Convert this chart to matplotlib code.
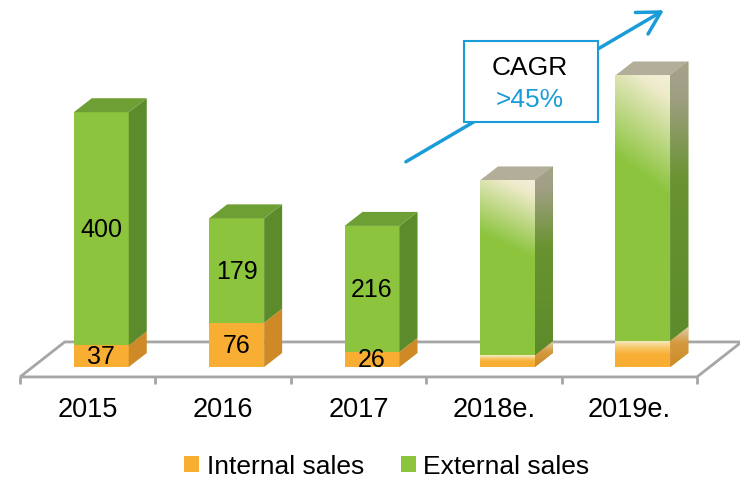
import numpy as np
import matplotlib
matplotlib.use('Agg')
import matplotlib.pyplot as plt
from matplotlib.patches import Polygon, Rectangle, Patch
from matplotlib.colors import to_rgb

plt.rcParams['font.family'] = ['Liberation Sans', 'DejaVu Sans']

# ------------------------------------------------------------------
# Data
# ------------------------------------------------------------------
years = ['2015', '2016', '2017', '2018e.', '2019e.']
internal = [37, 76, 26, 20, 45]
external = [400, 179, 216, 300, 455]
show_values = [True, True, True, False, False]
estimate = [False, False, False, True, True]
cagr_label = '>45%'

GREEN = '#8CC43E'
GREEN_SIDE = '#5C8B2B'
GREEN_TOP = '#6E9F35'
ORANGE = '#F8AE33'
ORANGE_SIDE = '#CD8A26'
BLUE = '#1A9CD8'
FLOOR = '#A6A6A6'

# 3D look: depth offsets in data units
DX, DY = 0.133, 24
BAR_W = 0.406
SHIFT = 0.1
FLOOR_Y = -17
FLOOR_DX, FLOOR_DY = 0.33, 60


def gradient(ax, clip, x0, x1, y0, y1, stops, tilt=0.0, z=3):
    r = np.linspace(0, 1, 120)[:, None]
    c = np.linspace(0, 1, 40)[None, :]
    s = np.clip(r + tilt * (1 - c), 0, 1)
    pos = [p for p, _ in stops]
    cols = np.array([to_rgb(cc) for _, cc in stops])
    img = np.stack([np.interp(s, pos, cols[:, k]) for k in range(3)], axis=-1)
    im = ax.imshow(img, extent=(x0, x1, y0, y1), origin='upper', aspect='auto',
                   zorder=z, interpolation='bilinear')
    im.set_clip_path(clip)
    return im


fig = plt.figure(figsize=(7.4, 4.81), dpi=100)
ax = fig.add_axes([0, 0, 1, 1])
ax.set_axis_off()

# floor
n = len(years)
floor = Polygon([(-0.5, FLOOR_Y), (n - 0.5, FLOOR_Y),
                 (n - 0.5 + FLOOR_DX, FLOOR_Y + FLOOR_DY),
                 (-0.5 + FLOOR_DX, FLOOR_Y + FLOOR_DY)],
                closed=True, facecolor='white', edgecolor=FLOOR, lw=2, zorder=1)
ax.add_patch(floor)
ax.vlines(np.arange(n + 1) - 0.5, FLOOR_Y - 12, FLOOR_Y, color=FLOOR, lw=2, zorder=1)

xs = np.arange(n) + SHIFT
b_int = ax.bar(xs, internal, width=BAR_W, color=ORANGE, zorder=3, lw=0)
b_ext = ax.bar(xs, external, bottom=internal, width=BAR_W, color=GREEN, zorder=3, lw=0)

for i in range(n):
    x0 = xs[i] - BAR_W / 2
    x1 = xs[i] + BAR_W / 2
    ib, it = 0, internal[i]
    et = internal[i] + external[i]
    side_i = Polygon([(x1, ib), (x1 + DX, ib + DY), (x1 + DX, it + DY), (x1, it)],
                     closed=True, facecolor=ORANGE_SIDE, lw=0, zorder=3)
    side_e = Polygon([(x1, it), (x1 + DX, it + DY), (x1 + DX, et + DY), (x1, et)],
                     closed=True, facecolor=GREEN_SIDE, lw=0, zorder=3)
    top = Polygon([(x0, et), (x1, et), (x1 + DX, et + DY), (x0 + DX, et + DY)],
                  closed=True, facecolor=GREEN_TOP, lw=0, zorder=3)
    for p in (side_i, side_e, top):
        ax.add_patch(p)

    if estimate[i]:
        top.set_facecolor('#B2AE9A')
        gradient(ax, b_ext[i], x0, x1, it, et,
                 [(0, '#F3EFD9'), (0.08, '#EEEBCB'), (0.45, GREEN), (1, GREEN)], tilt=0.15, z=4)
        gradient(ax, b_int[i], x0, x1, ib, it,
                 [(0, '#F5EFC8'), (0.3, '#F8C463'), (0.55, ORANGE), (1, ORANGE)], z=4)
        gradient(ax, side_e, x1, x1 + DX, it, et + DY,
                 [(0, '#A6A28B'), (0.12, '#A09F84'), (0.42, '#6A9331'), (1, GREEN_SIDE)], z=4)
        gradient(ax, side_i, x1, x1 + DX, ib, it + DY,
                 [(0, '#DCD2B4'), (0.4, '#D49A40'), (1, ORANGE_SIDE)], z=4)

    if show_values[i]:
        ax.text(xs[i], it / 2, str(internal[i]), ha='center', va='center',
                fontsize=18, zorder=6)
        ax.text(xs[i], it + external[i] / 2, str(external[i]), ha='center', va='center',
                fontsize=18, zorder=6)

for i, y in enumerate(years):
    ax.text(i, -72, y, ha='center', va='center', fontsize=19.5)

# CAGR arrow and box
ax.annotate('', xy=(4.256, 612), xytext=(2.35, 352),
            arrowprops=dict(arrowstyle='->,head_length=0.8,head_width=0.45',
                            lw=2.5, color=BLUE, mutation_scale=20, shrinkA=0, shrinkB=0),
            zorder=7)
ax.add_patch(Rectangle((2.779, 420), 0.99, 139, facecolor='white',
                       edgecolor=BLUE, lw=1.5, zorder=8))
ax.text(3.267, 514, 'CAGR', ha='center', va='center', fontsize=19, zorder=9)
ax.text(3.267, 460, cagr_label, ha='center', va='center', fontsize=19,
        color=BLUE, zorder=9)

ax.set_xlim(-0.648, 4.818)
ax.set_ylim(-193.8, 631.2)

handles = [Patch(facecolor=ORANGE), Patch(facecolor=GREEN)]
fig.legend(handles, ['Internal sales', 'External sales'], loc='center',
           bbox_to_anchor=(0.523, 0.029), ncol=2, frameon=False, fontsize=19,
           handlelength=0.55, handleheight=0.55, handletextpad=0.3, columnspacing=1.4)

fig.savefig('out.png', dpi=100)
